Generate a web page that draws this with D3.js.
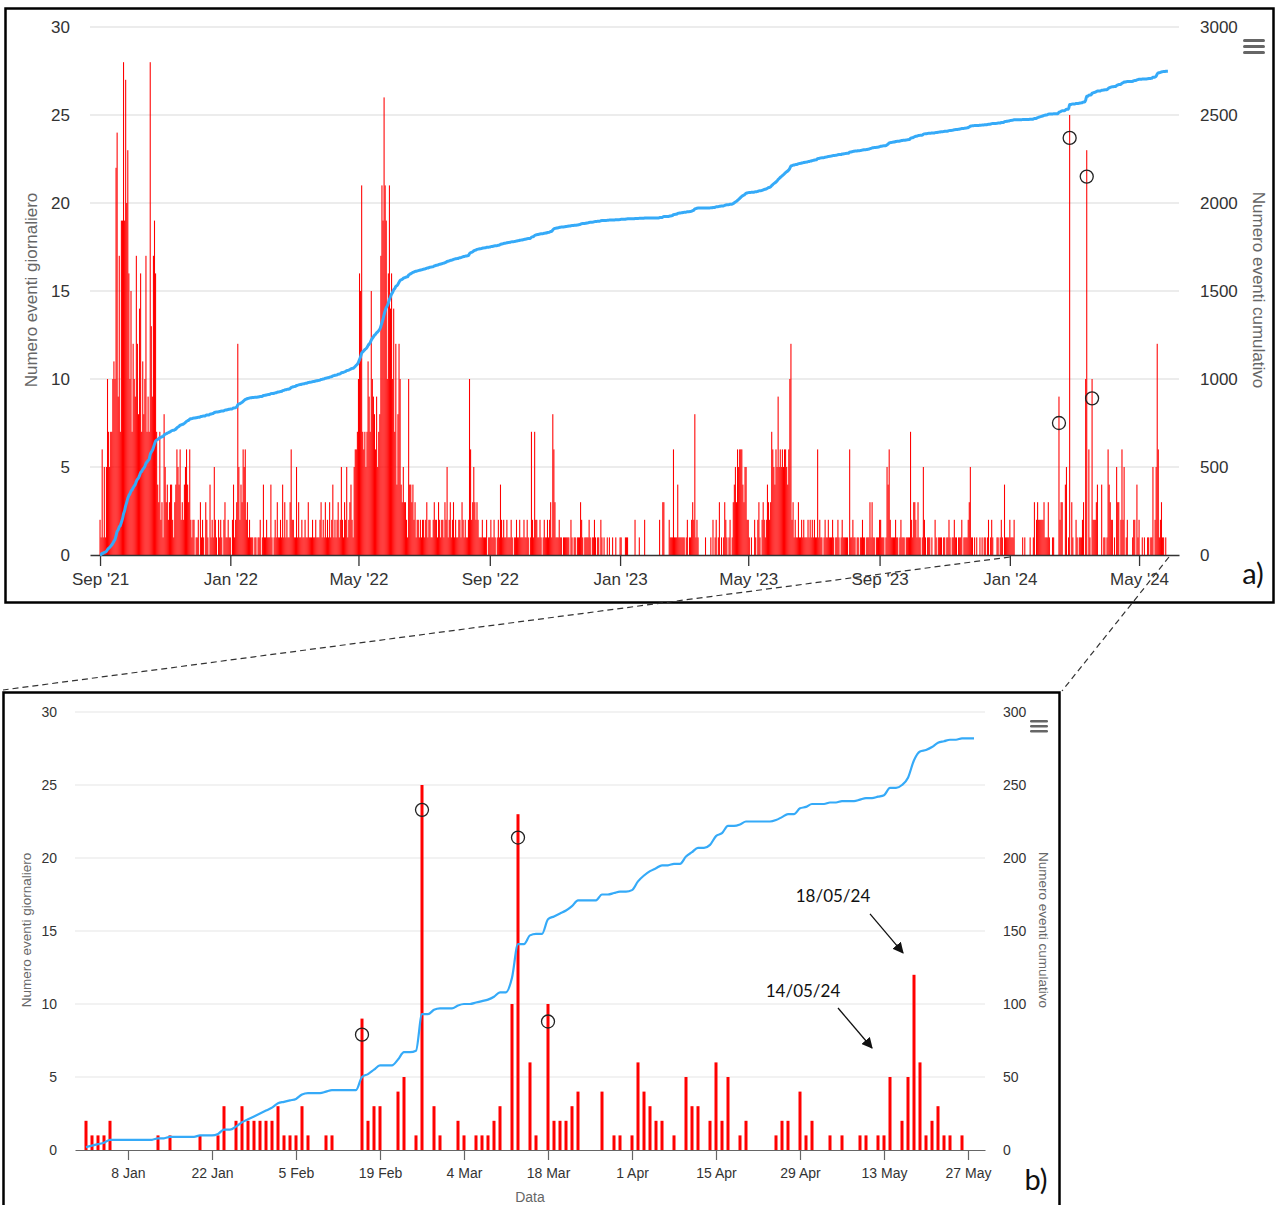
<!DOCTYPE html>
<html>
<head>
<meta charset="utf-8">
<script src="https://cdn.jsdelivr.net/npm/d3@7"></script>
<style>
  html, body { margin: 0; padding: 0; background: #ffffff; }
  svg { display: block; }
  text { font-family: "Liberation Sans", Arial, sans-serif; }
</style>
</head>
<body>
<svg id="chart" width="1281" height="1205"></svg>
<script>
// ---------------- DATA ----------------
// Daily event counts, panel a (Sep 2021 - Dec 2023), one inner array per month
const daily2021 = [ // Sep..Dec 2021
  [2,1,6,1,5,1,5,10,7,5, 7,7,10,11,10,22,24,9,17,7, 19,19,28,19,27,20,23,16,10,15],
  [7,12,10,9,17,12,8,14,16,7, 11,8,10,17,7,9,7,28,13,9, 17,19,16,7,4,3,7,2,3,1, 8],
  [5,3,4,2,3,4,4,2,1,3, 4,6,5,4,6,2,3,2,4,5, 6,4,3,6,2,1,2,2,0,1],
  [1,2,0,3,1,2,1,0,3,2, 1,0,4,1,2,1,5,2,1,0, 2,1,2,1,0,2,3,1,1,2, 1]
];
const daily2022 = [ // Jan..Dec 2022
  [1,0,2,4,1,2,3,12,5,2, 4,3,6,5,6,2,3,1,2,1, 1,1,0,1,1,0,1,1,2,0, 1],
  [4,1,1,2,1,1,1,4,1,0, 1,2,1,3,1,1,2,1,4,1, 3,1,2,1,1,3,6,2],
  [2,1,1,5,1,3,1,1,2,1, 1,2,1,1,3,1,1,1,2,1, 1,2,1,1,1,2,3,1,2,1, 3],
  [1,2,1,3,1,2,4,1,2,1, 2,3,1,2,5,2,1,3,2,5, 1,2,3,4,2,1,5,6,6,7],
  [10,16,15,21,7,6,7,5,7,11, 9,7,15,10,9,8,6,9,5,7, 8,17,21,19,26,21,19,10,16,21, 14],
  [16,10,14,7,12,4,8,12,10,4, 3,5,3,3,2,1,10,4,4,3, 4,2,3,1,2,2,1,2,1,2],
  [2,1,2,3,1,2,2,1,1,2, 3,2,2,1,3,2,1,2,2,1, 3,2,5,1,2,3,1,2,3,1, 2],
  [1,1,2,2,1,3,2,1,2,1, 1,2,10,6,2,3,5,3,2,3, 2,1,1,1,2,1,1,1,2,0, 1],
  [1,2,1,1,2,1,0,1,2,1, 4,2,1,2,1,1,2,1,1,1, 2,1,0,1,1,2,1,1,2,1],
  [1,1,2,1,1,2,1,0,1,7, 2,1,7,2,2,1,1,2,1,0, 1,2,1,1,2,1,2,3,1,8, 6],
  [3,1,1,1,2,1,1,0,1,1, 1,1,1,1,0,2,1,0,1,1, 0,1,1,1,3,2,1,0,1,1],
  [1,1,2,1,0,1,1,2,1,0, 1,1,0,2,1,0,1,0,0,1, 0,1,0,0,1,0,0,1,0,0, 0]
];
const daily2023 = [ // Jan..Dec 2023
  [1,1,0,0,0,1,1,1,0,0, 0,0,0,0,2,0,0,0,1,0, 0,0,0,2,0,0,0,0,0,0, 0],
  [0,0,0,0,0,0,2,0,0,3, 3,0,0,0,0,2,1,1,1,6, 1,1,1,4,1,1,1,1],
  [1,1,0,1,2,0,1,1,2,3, 2,8,1,2,1,0,0,0,0,0, 0,1,0,0,0,0,1,0,2,0, 1],
  [2,0,1,3,0,1,0,1,3,2, 1,0,1,2,0,1,3,4,5,3, 6,5,6,6,6,4,3,5,5,2],
  [2,1,0,1,0,0,2,1,0,2, 3,1,0,2,3,2,1,2,4,3, 2,3,7,6,5,4,6,5,9,5, 6],
  [5,6,5,6,6,5,4,6,10,12, 2,3,1,2,1,1,3,1,1,2, 1,2,1,1,1,2,1,2,1,2],
  [1,2,1,1,6,1,2,1,1,0, 1,2,1,1,2,1,1,1,2,1, 0,1,1,2,1,0,1,2,1,1, 1],
  [1,1,0,6,1,1,2,1,1,0, 1,1,0,1,1,2,1,1,0,1, 1,1,3,1,3,1,1,0,1,1, 1],
  [2,2,1,1,1,0,1,5,4,6, 2,1,1,1,1,2,1,1,0,1, 2,1,1,1,0,1,1,1,1,7],
  [2,1,3,3,2,1,3,1,1,0, 1,5,2,1,0,1,1,1,0,1, 0,0,2,1,0,1,1,1,1,0, 1],
  [1,0,1,1,2,1,0,1,1,2, 1,1,0,1,1,1,2,0,1,1, 1,1,2,3,5,1,1,0,1,0],
  [1,0,0,1,0,1,0,1,1,0, 1,2,0,1,2,1,0,0,0,1, 1,0,1,2,1,0,4,1,1,1, 1]
];
// Daily event counts from 1 Jan 2024 (panel b, also the tail of panel a)
const daily2024 = [
  2,1,1,1,2,0,0,0,0,0, 0,0,1,0,1,0,0,0,0,1, 0,0,1,3,0,2,3,2,2,2,
  2,2,3,1,1,1,3,1,0,0, 1,1,0,0,0,0,9,2,3,3, 0,0,4,5,0,1,25,0,3,1,
  0,0,2,1,0,1,1,1,2,3, 0,10,23,0,6,1,0,10,2,2, 2,3,4,0,0,0,4,0,1,1,
  0,1,6,4,3,2,2,0,1,0, 5,3,3,0,2,6,2,5,0,1, 2,0,0,0,0,1,2,2,0,4,
  1,2,0,0,1,0,1,0,0,1, 1,0,1,1,5,0,2,5,12,6, 1,2,3,1,1,0,1,0,0
];

// Axis ticks
const yLeftTicks = [0, 5, 10, 15, 20, 25, 30];
const yRightTicksA = [0, 500, 1000, 1500, 2000, 2500, 3000];
const yRightTicksB = [0, 50, 100, 150, 200, 250, 300];

// Highlighted days (circles) and their circle heights
const circleDates = ["2024-02-16", "2024-02-26", "2024-03-13", "2024-03-18"];
const circleValsA = [7.5, 23.7, 21.5, 8.9];
const circleValsB = [7.9, 23.3, 21.4, 8.8];

// Text annotations in panel b
const annotDates = ["2024-05-18", "2024-05-14"];
const annotLabels = ["18/05/24", "14/05/24"];

// ---------------- BUILD SERIES ----------------
const DAY = 864e5;
function expand(months, year, startMonth) {
  const out = [];
  months.forEach((arr, mi) => {
    arr.forEach((v, di) => {
      out.push({ date: new Date(Date.UTC(year, startMonth + mi, 1 + di)), v });
    });
  });
  return out;
}
const seriesB = daily2024.map((v, i) => ({ date: new Date(Date.UTC(2024, 0, 1 + i)), v }));
const seriesA = [].concat(
  expand(daily2021, 2021, 8),
  expand(daily2022, 2022, 0),
  expand(daily2023, 2023, 0),
  seriesB.map(d => ({ date: d.date, v: d.v }))
);
{ let c = 0; seriesA.forEach(d => { c += d.v; d.cum = c; }); }
const cumB = [];
{ let c = 0; seriesB.forEach(d => { c += d.v; cumB.push({ date: d.date, cum: c }); }); }

// ---------------- DRAW ----------------
const svg = d3.select("#chart");
const FONT = '"Liberation Sans", Arial, sans-serif';
const LINE_COLOR = "#35aaf8";

function hamburger(g, x, y, w, gap, th) {
  for (let i = 0; i < 3; i++) {
    g.append("rect").attr("x", x).attr("y", y + i * gap).attr("width", w).attr("height", th)
      .attr("rx", th / 2).attr("fill", "#666");
  }
}

// ===== Panel a =====
const sep1 = Date.UTC(2021, 8, 1);
const xA = d3.scaleUtc()
  .domain([new Date(sep1 - 9.4 * DAY), new Date(sep1 + 1010.4 * DAY)])
  .range([90, 1179]);
const yA = d3.scaleLinear().domain([0, 30]).range([555, 27]);
const yA2 = d3.scaleLinear().domain([0, 3000]).range([555, 27]);

const gA = svg.append("g");
gA.append("g").selectAll("line").data(yLeftTicks.slice(1)).join("line")
  .attr("x1", 90).attr("x2", 1179)
  .attr("y1", d => yA(d)).attr("y2", d => yA(d))
  .attr("stroke", "#e6e6e6").attr("stroke-width", 1.5);

const dayPxA = xA(new Date(sep1 + DAY)) - xA(new Date(sep1));
gA.append("g").selectAll("rect").data(seriesA.filter(d => d.v > 0)).join("rect")
  .attr("x", d => xA(d.date) - dayPxA * 0.5)
  .attr("width", dayPxA)
  .attr("y", d => yA(d.v))
  .attr("height", d => yA(0) - yA(d.v))
  .attr("fill", "#ff0000");

const xTicksA = d3.range(0, 9).map(i => new Date(Date.UTC(2021, 8 + 4 * i, 1)));
const xAxisA = d3.axisBottom(xA).tickValues(xTicksA).tickFormat(d3.utcFormat("%b '%y"))
  .tickSize(11).tickSizeOuter(0).tickPadding(7);
const gxA = gA.append("g").attr("transform", "translate(0,555)").call(xAxisA);
gxA.select(".domain").attr("stroke", "#333").attr("stroke-width", 1.3);
gxA.selectAll(".tick line").attr("stroke", "#333").attr("stroke-width", 1.3);
gxA.selectAll(".tick text").attr("fill", "#333").style("font-size", "17px").style("font-family", FONT);

const yAxisA = d3.axisLeft(yA).tickValues(yLeftTicks).tickSize(0).tickPadding(20);
const gyA = gA.append("g").attr("transform", "translate(90,0)").call(yAxisA);
gyA.select(".domain").remove();
gyA.selectAll(".tick text").attr("fill", "#333").style("font-size", "17px").style("font-family", FONT);

const yAxisA2 = d3.axisRight(yA2).tickValues(yRightTicksA).tickFormat(d3.format("d")).tickSize(0).tickPadding(21);
const gyA2 = gA.append("g").attr("transform", "translate(1179,0)").call(yAxisA2);
gyA2.select(".domain").remove();
gyA2.selectAll(".tick text").attr("fill", "#333").style("font-size", "17px").style("font-family", FONT);

gA.append("path").datum(seriesA)
  .attr("fill", "none").attr("stroke", LINE_COLOR).attr("stroke-width", 3)
  .attr("stroke-linejoin", "round")
  .attr("d", d3.line().x(d => xA(d.date)).y(d => yA2(d.cum)).curve(d3.curveMonotoneX));

gA.append("g").selectAll("circle").data(circleDates).join("circle")
  .attr("cx", d => xA(new Date(d + "T00:00:00Z")))
  .attr("cy", (d, i) => yA(circleValsA[i]))
  .attr("r", 6.5).attr("fill", "none").attr("stroke", "#222").attr("stroke-width", 1.3);

gA.append("text").attr("transform", "translate(31,290) rotate(-90)")
  .attr("text-anchor", "middle").attr("dominant-baseline", "central")
  .attr("fill", "#666").style("font-size", "17px").text("Numero eventi giornaliero");
gA.append("text").attr("transform", "translate(1258,290) rotate(90)")
  .attr("text-anchor", "middle").attr("dominant-baseline", "central")
  .attr("fill", "#666").style("font-size", "17px").text("Numero eventi cumulativo");

hamburger(gA, 1243, 39, 22, 6, 3);

svg.append("rect").attr("x", 5.5).attr("y", 8.5).attr("width", 1268).attr("height", 594)
  .attr("fill", "none").attr("stroke", "#000").attr("stroke-width", 2.5);
svg.append("text").attr("x", 1253).attr("y", 584).attr("text-anchor", "middle")
  .style("font-family", "Lato, 'Open Sans', sans-serif").style("font-size", "29px").attr("fill", "#111").text("a)");

// ===== Panel b =====
const jan1 = Date.UTC(2024, 0, 1);
const xB = d3.scaleUtc()
  .domain([new Date(jan1 - 1.833 * DAY), new Date(jan1 + 149.833 * DAY)])
  .range([75, 985]);
const yB = d3.scaleLinear().domain([0, 30]).range([1150, 712]);
const yB2 = d3.scaleLinear().domain([0, 300]).range([1150, 712]);

const gB = svg.append("g");
gB.append("g").selectAll("line").data(yLeftTicks.slice(1)).join("line")
  .attr("x1", 75).attr("x2", 985)
  .attr("y1", d => yB(d)).attr("y2", d => yB(d))
  .attr("stroke", "#e6e6e6").attr("stroke-width", 1.2);

gB.append("g").selectAll("rect").data(seriesB.filter(d => d.v > 0)).join("rect")
  .attr("x", d => xB(d.date) - 1.5)
  .attr("width", 3)
  .attr("y", d => yB(d.v))
  .attr("height", d => yB(0) - yB(d.v))
  .attr("fill", "#ff0000");

const xTicksB = d3.range(0, 11).map(i => new Date(Date.UTC(2024, 0, 8 + 14 * i)));
const xAxisB = d3.axisBottom(xB).tickValues(xTicksB).tickFormat(d3.utcFormat("%-d %b"))
  .tickSize(10).tickSizeOuter(0).tickPadding(8);
const gxB = gB.append("g").attr("transform", "translate(0,1150)").call(xAxisB);
gxB.select(".domain").attr("stroke", "#666").attr("stroke-width", 1.2);
gxB.selectAll(".tick line").attr("stroke", "#666").attr("stroke-width", 1.2);
gxB.selectAll(".tick text").attr("fill", "#333").style("font-size", "14px").style("font-family", FONT);

const yAxisB = d3.axisLeft(yB).tickValues(yLeftTicks).tickSize(0).tickPadding(18);
const gyB = gB.append("g").attr("transform", "translate(75,0)").call(yAxisB);
gyB.select(".domain").remove();
gyB.selectAll(".tick text").attr("fill", "#333").style("font-size", "14px").style("font-family", FONT);

const yAxisB2 = d3.axisRight(yB2).tickValues(yRightTicksB).tickFormat(d3.format("d")).tickSize(0).tickPadding(18);
const gyB2 = gB.append("g").attr("transform", "translate(985,0)").call(yAxisB2);
gyB2.select(".domain").remove();
gyB2.selectAll(".tick text").attr("fill", "#333").style("font-size", "14px").style("font-family", FONT);

gB.append("path").datum(cumB)
  .attr("fill", "none").attr("stroke", LINE_COLOR).attr("stroke-width", 2.2)
  .attr("stroke-linejoin", "round")
  .attr("d", d3.line().x(d => xB(d.date)).y(d => yB2(d.cum)).curve(d3.curveMonotoneX));

gB.append("g").selectAll("circle").data(circleDates).join("circle")
  .attr("cx", d => xB(new Date(d + "T00:00:00Z")))
  .attr("cy", (d, i) => yB(circleValsB[i]))
  .attr("r", 6.5).attr("fill", "none").attr("stroke", "#222").attr("stroke-width", 1.3);

gB.append("text").attr("transform", "translate(26,930) rotate(-90)")
  .attr("text-anchor", "middle").attr("dominant-baseline", "central")
  .attr("fill", "#666").style("font-size", "13.5px").text("Numero eventi giornaliero");
gB.append("text").attr("transform", "translate(1043,930) rotate(90)")
  .attr("text-anchor", "middle").attr("dominant-baseline", "central")
  .attr("fill", "#666").style("font-size", "13.5px").text("Numero eventi cumulativo");
gB.append("text").attr("x", 530).attr("y", 1202).attr("text-anchor", "middle")
  .attr("fill", "#666").style("font-size", "14px").text("Data");

hamburger(gB, 1030, 720, 18, 5, 2.5);

const defs = svg.append("defs");
defs.append("marker").attr("id", "arr").attr("viewBox", "0 0 10 10")
  .attr("refX", 9).attr("refY", 5).attr("markerWidth", 11).attr("markerHeight", 11)
  .attr("markerUnits", "userSpaceOnUse").attr("orient", "auto")
  .append("path").attr("d", "M0,0 L10,5 L0,10 z").attr("fill", "#111");
// [text dx, text dy, arrow start dx, dy, arrow end dx, dy] relative to bar top
const annotOffsets = [[-81, -79, -44, -61, -11, -22], [-87, -87, -52, -69, -18, -29]];
annotDates.forEach((ds, i) => {
  const d = new Date(ds + "T00:00:00Z");
  const bar = seriesB.find(s => +s.date === +d);
  const bx = xB(d), by = yB(bar.v), o = annotOffsets[i];
  gB.append("text").attr("x", bx + o[0]).attr("y", by + o[1]).attr("text-anchor", "middle")
    .attr("dominant-baseline", "central")
    .style("font-family", "Lato, 'Open Sans', sans-serif").style("font-size", "17px").attr("fill", "#111")
    .text(annotLabels[i]);
  gB.append("line").attr("x1", bx + o[2]).attr("y1", by + o[3]).attr("x2", bx + o[4]).attr("y2", by + o[5])
    .attr("stroke", "#111").attr("stroke-width", 1.3).attr("marker-end", "url(#arr)");
});

svg.append("rect").attr("x", 3.5).attr("y", 692.5).attr("width", 1056).attr("height", 530)
  .attr("fill", "none").attr("stroke", "#000").attr("stroke-width", 2.5);
svg.append("text").attr("x", 1036).attr("y", 1190).attr("text-anchor", "middle")
  .style("font-family", "Lato, 'Open Sans', sans-serif").style("font-size", "29px").attr("fill", "#111").text("b)");

const zoomStart = xA(new Date(jan1));
const zoomEnd = xA(new Date(jan1 + 149 * DAY));
svg.append("line").attr("x1", zoomStart).attr("y1", 557).attr("x2", 3).attr("y2", 690)
  .attr("stroke", "#333").attr("stroke-width", 1.2).attr("stroke-dasharray", "6,4");
svg.append("line").attr("x1", zoomEnd).attr("y1", 557).attr("x2", 1062).attr("y2", 691)
  .attr("stroke", "#333").attr("stroke-width", 1.2).attr("stroke-dasharray", "6,4");
</script>
</body>
</html>
